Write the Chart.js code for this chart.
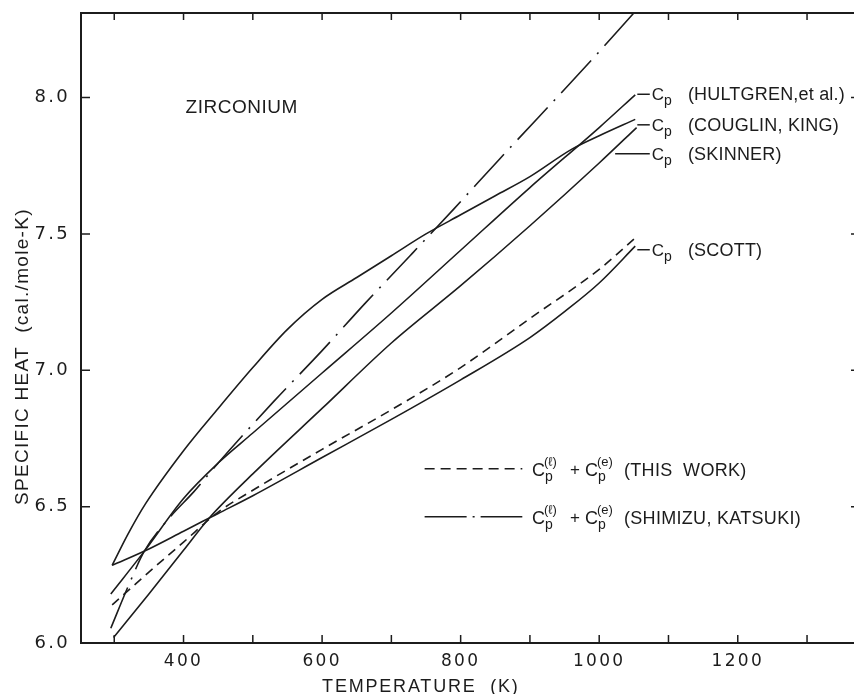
<!DOCTYPE html>
<html>
<head>
<meta charset="utf-8">
<script src="https://cdn.jsdelivr.net/npm/chart.js@4.4.1/dist/chart.umd.min.js"></script>
<style>
  html, body { margin: 0; padding: 0; background: #fff; overflow: hidden; }
  #wrap { width: 866px; height: 694px; }
</style>
</head>
<body>
<div id="wrap"><canvas id="chart" width="866" height="694"></canvas></div>
<script>
// axis ticks
const xTickValues = [300, 400, 500, 600, 700, 800, 900, 1000, 1100, 1200, 1300];
const xTickLabels = [400, 600, 800, 1000, 1200];
const yTickValues = [6.0, 6.5, 7.0, 7.5, 8.0];

// temperature (K) / specific heat (cal./mole-K)
const hultgrenT  = [295, 343, 400, 450, 500, 600, 700, 800, 900, 1000, 1052];
const hultgrenCp = [6.18, 6.335, 6.53, 6.66, 6.77, 6.99, 7.21, 7.44, 7.67, 7.89, 8.01];

const couglinT  = [297, 320, 345, 400, 450, 500, 550, 600, 650, 700, 750, 800, 850, 900, 960, 1000, 1052];
const couglinCp = [6.285, 6.40, 6.51, 6.705, 6.86, 7.01, 7.15, 7.26, 7.34, 7.42, 7.50, 7.57, 7.64, 7.71, 7.81, 7.86, 7.92];

const skinnerT  = [299, 350, 400, 436, 500, 600, 700, 800, 900, 1000, 1054];
const skinnerCp = [6.02, 6.18, 6.34, 6.455, 6.62, 6.86, 7.10, 7.31, 7.53, 7.76, 7.89];

const scottT  = [297, 350, 400, 450, 500, 600, 700, 800, 900, 950, 1000, 1052];
const scottCp = [6.285, 6.345, 6.41, 6.475, 6.54, 6.68, 6.82, 6.965, 7.12, 7.215, 7.32, 7.455];

const thisWorkT  = [297, 350, 400, 450, 500, 600, 700, 800, 900, 1000, 1052];
const thisWorkCp = [6.14, 6.26, 6.37, 6.48, 6.56, 6.71, 6.855, 7.01, 7.19, 7.37, 7.485];

const shimizuT  = [295, 321, 343, 380, 415, 450, 530, 600, 663, 727, 790, 856, 987, 1050];
const shimizuCp = [6.054, 6.213, 6.335, 6.46, 6.555, 6.66, 6.885, 7.072, 7.248, 7.42, 7.591, 7.774, 8.132, 8.31];

const curveLabels = ['(HULTGREN,et al.)', '(COUGLIN, KING)', '(SKINNER)', '(SCOTT)'];

const ink = '#1c1c1c';
const sans = '"Liberation Sans", Arial, sans-serif';

function series(t, cp, dash) {
    return {
        data: t.map((v, i) => ({ x: v, y: cp[i] })),
        borderColor: ink,
        borderWidth: 1.6,
        borderDash: dash,
        pointRadius: 0,
        fill: false,
        cubicInterpolationMode: 'monotone'
    };
}

// "C" with subscript p and optional superscript, returns right edge
function drawCp(ctx, px, base, size, sup) {
    ctx.textAlign = 'left';
    ctx.textBaseline = 'alphabetic';
    ctx.font = size + 'px ' + sans;
    ctx.fillText('C', px, base);
    const w = ctx.measureText('C').width;
    ctx.font = Math.round(size * 0.8) + 'px ' + sans;
    ctx.fillText('p', px + w, base + 5);
    let end = px + w + ctx.measureText('p').width;
    if (sup) {
        ctx.font = Math.round(size * 0.7) + 'px ' + sans;
        ctx.fillText(sup, px + w - 1, base - 10);
        end = Math.max(end, px + w - 1 + ctx.measureText(sup).width);
    }
    return end;
}

const annotate = {
    id: 'annotate',
    beforeDraw(chart) {
        chart.ctx.letterSpacing = '2.3px';
    },
    afterDraw(chart) {
        const { ctx, chartArea: a, scales: { x, y } } = chart;
        ctx.save();
        ctx.letterSpacing = '0px';
        ctx.strokeStyle = ink;
        ctx.fillStyle = ink;

        // top and right frame
        ctx.lineWidth = 2;
        ctx.beginPath();
        ctx.moveTo(a.left, a.top);
        ctx.lineTo(a.right, a.top);
        ctx.lineTo(a.right, a.bottom);
        ctx.stroke();

        // inward tick marks
        ctx.lineWidth = 1.5;
        ctx.beginPath();
        xTickValues.forEach(v => {
            const px = x.getPixelForValue(v);
            ctx.moveTo(px, a.bottom); ctx.lineTo(px, a.bottom - 8);
            ctx.moveTo(px, a.top); ctx.lineTo(px, a.top + 7);
        });
        yTickValues.forEach(v => {
            const py = y.getPixelForValue(v);
            ctx.moveTo(a.left, py); ctx.lineTo(a.left + 9, py);
            ctx.moveTo(a.right, py); ctx.lineTo(a.right - 8, py);
        });
        ctx.stroke();

        // element name
        ctx.font = '19px ' + sans;
        ctx.letterSpacing = '0.5px';
        ctx.textAlign = 'left';
        ctx.fillText('ZIRCONIUM', x.getPixelForValue(403), y.getPixelForValue(7.944));

        // curve labels on the right
        const labelCp = [7.99, 7.878, 7.772, 7.42];
        const leaderFrom = [1055, 1055, 1023, 1055];
        ctx.lineWidth = 1.5;
        curveLabels.forEach((txt, i) => {
            const base = y.getPixelForValue(labelCp[i]);
            const x0 = x.getPixelForValue(leaderFrom[i]);
            const x1 = x.getPixelForValue(1073);
            ctx.beginPath();
            ctx.moveTo(x0, base - 6); ctx.lineTo(x1, base - 6);
            ctx.stroke();
            ctx.letterSpacing = '0px';
            drawCp(ctx, x1 + 2, base, 17, null);
            ctx.font = '18px ' + sans;
            ctx.letterSpacing = '0.2px';
            ctx.fillText(txt, x.getPixelForValue(1128), base);
        });

        // legend
        const rows = [
            { cp: 6.613, dash: [10, 6], text: '(THIS  WORK)' },
            { cp: 6.437, dash: [42, 6, 2, 6], text: '(SHIMIZU, KATSUKI)' }
        ];
        rows.forEach(r => {
            const base = y.getPixelForValue(r.cp);
            const sx0 = x.getPixelForValue(748);
            const sx1 = x.getPixelForValue(889);
            ctx.setLineDash(r.dash);
            ctx.beginPath();
            ctx.moveTo(sx0, base - 7); ctx.lineTo(sx1, base - 7);
            ctx.stroke();
            ctx.setLineDash([]);
            ctx.letterSpacing = '0px';
            const tx = x.getPixelForValue(903);
            drawCp(ctx, tx, base, 18, '(\u2113)');
            ctx.font = '17px ' + sans;
            ctx.fillText('+', tx + 38, base - 1);
            drawCp(ctx, tx + 53, base, 18, '(e)');
            ctx.font = '18px ' + sans;
            ctx.letterSpacing = '0.3px';
            ctx.fillText(r.text, tx + 92, base);
        });

        // axis titles
        ctx.font = '18px ' + sans;
        ctx.letterSpacing = '1.8px';
        ctx.textAlign = 'left';
        ctx.fillText('TEMPERATURE  (K)', x.getPixelForValue(600), 692);

        ctx.save();
        ctx.translate(28, y.getPixelForValue(7.05));
        ctx.rotate(-Math.PI / 2);
        ctx.font = '19px ' + sans;
        ctx.letterSpacing = '1.3px';
        ctx.textAlign = 'center';
        ctx.fillText('SPECIFIC HEAT  (cal./mole-K)', 0, 0);
        ctx.restore();

        ctx.restore();
    }
};

new Chart(document.getElementById('chart'), {
    type: 'line',
    data: {
        datasets: [
            series(hultgrenT, hultgrenCp, []),
            series(couglinT, couglinCp, []),
            series(skinnerT, skinnerCp, []),
            series(scottT, scottCp, []),
            series(thisWorkT, thisWorkCp, [9, 6]),
            series(shimizuT, shimizuCp, [44, 9, 2, 9])
        ]
    },
    options: {
        responsive: false,
        animation: false,
        layout: { padding: { top: 13, right: 7, left: 0, bottom: 0 } },
        plugins: {
            legend: { display: false },
            tooltip: { enabled: false }
        },
        scales: {
            x: {
                type: 'linear',
                min: 252,
                max: 1375,
                grid: { display: false, drawTicks: false },
                border: { color: ink, width: 2 },
                afterFit: s => { s.height = 51; s.paddingLeft = 0; s.paddingRight = 0; },
                afterBuildTicks: s => { s.ticks = xTickValues.map(v => ({ value: v })); },
                ticks: {
                    autoSkip: false,
                    maxRotation: 0,
                    padding: 8,
                    color: ink,
                    font: { family: '"DejaVu Sans"', size: 17 },
                    callback: v => xTickLabels.includes(v) ? String(v) : ''
                }
            },
            y: {
                min: 6,
                max: 8.31,
                grid: { display: false, drawTicks: false },
                border: { color: ink, width: 2 },
                afterFit: s => { s.width = 81; s.paddingTop = 0; s.paddingBottom = 0; },
                afterBuildTicks: s => { s.ticks = yTickValues.map(v => ({ value: v })); },
                ticks: {
                    padding: 11,
                    color: ink,
                    font: { family: '"DejaVu Sans"', size: 18 },
                    callback: v => v.toFixed(1)
                }
            }
        }
    },
    plugins: [annotate]
});
</script>
</body>
</html>
